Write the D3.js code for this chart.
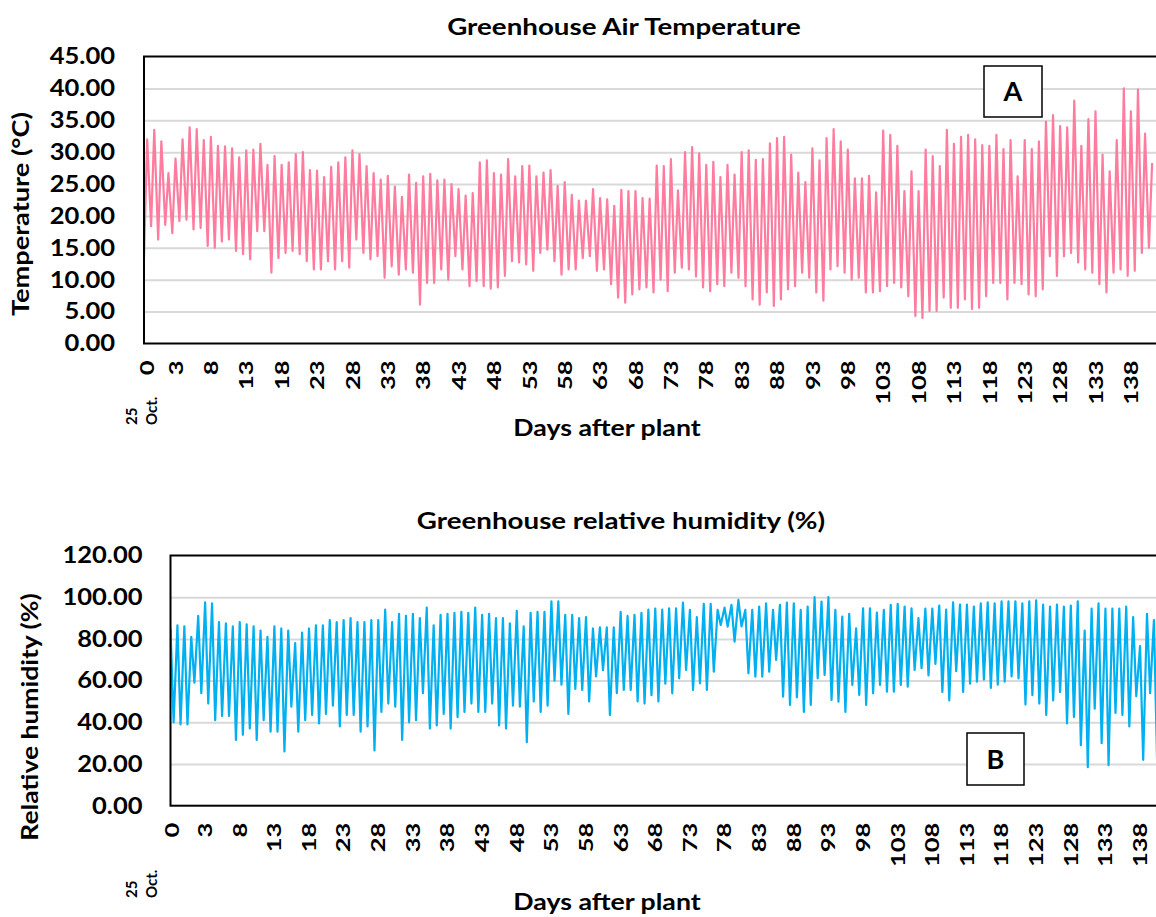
<!DOCTYPE html>
<html><head><meta charset="utf-8">
<script src="https://cdn.jsdelivr.net/npm/d3@7"></script>
<style>
body{margin:0;background:#fff;}
text{font-family:Lato,"Open Sans",sans-serif;font-weight:bold;fill:#000;}
</style>
</head><body>
<svg id="chart" width="1156" height="917"></svg>
<script>
// ---------- DATA ----------
const dayTicks = [0,3,8,13,18,23,28,33,38,43,48,53,58,63,68,73,78,83,88,93,98,103,108,113,118,123,128,133,138];
const tempTicks = [0,5,10,15,20,25,30,35,40,45];
const humTicks = [0,20,40,60,80,100,120];

// daily maximum air temperature (°C)
const tempMax = [
 32,33.5,31.7,26.7,29,32,33.9,33.6,31.9,32.4,31,30.9,30.6,29.2,30.3,30.4,31.3,28,29.4,28,28.4,29.7,30,27.2,27.1,26.1,27.7,28.4,29.2,30.3,29.7,27.8,26.7,25.7,26.3,24.6,
 23,26.5,25.2,26.2,26.6,25.6,25.7,25,24.2,23.2,23.6,28.4,28.7,26.7,26.5,28.9,26.2,27.8,27.9,26.2,26.8,27.2,24.7,25.3,23.3,22.4,22.4,24.2,22.8,22.6,21.6,24.1,23.9,23.9,22.8,22.7,
 27.9,27.8,28.9,24,30,30.8,29.8,28,28.5,26.1,28,26.5,30,30.3,28.8,28.9,31.4,32.2,32.4,29.6,26.8,25.3,30.6,28.7,32.2,33.6,31.7,30.4,25.9,25.9,26.3,23.7,33.4,32.7,31,
 23.9,27,23.9,30.4,29.4,27.8,33.5,31.3,32.4,32.7,32,31.1,31,32.7,30.5,31.9,26.2,31.9,30.5,31.7,34.8,35.8,34.1,33.9,38.1,31,35.2,36.4,29.6,27,31.9,40,36.4,39.8,32.9,28.3
];
// daily minimum air temperature (°C)
const tempMin = [
 13.4,18.4,16.3,18.6,17.3,19.2,19.4,17.9,18.1,15.3,15,16,16.3,14.5,14,13.2,17.6,17.6,11.1,13.4,14.2,14.5,14,12.9,11.6,11.6,12.9,11.6,12.9,11.9,16.3,14.2,13.2,13.7,10.3,12.1,
 10.8,11.6,11.1,6.1,9.5,9.5,11.6,10,13.7,11.6,9,9.8,9,8.6,8.8,10.6,12.9,12.7,12.4,11.4,14.2,14.7,12.9,10.8,11.6,11.6,13.4,13.7,11.4,11.6,9.3,7.2,6.4,7.7,8.5,8.8,
 8,10,8.2,11.1,11.9,11.6,10.5,8.8,8.2,9.3,9,11.1,10.3,9,6.9,6.1,8,5.9,6.9,8.5,9,11.1,10.3,8,6.7,11.6,12.1,11.1,10,10.3,8,8,8.2,9,9.5,
 8.8,7.4,4.3,4,5.1,5.1,7.2,5.6,5.6,6.9,5.4,5.6,7.4,9.5,9.5,6.9,9.5,9.3,7.7,7.4,8.5,13.7,10.6,13.7,14.2,12.7,11.6,11.1,9.3,8,11.1,11.6,10.6,11.4,14.2,15
];
// daily maximum relative humidity (%)
const humMax = [
 85,86.5,86,81,91,97.5,97,88,87.5,86,88,87,86,84,81,86,85,84,78,83,85,86.5,86.5,89,88,89,90,88,88,89,89,94,88,92,91,92,
 90,95,86.5,91.5,92,92.5,93,92.5,95,91.5,92,90,90,87.5,93.5,86,92.5,93,93,98,98,91.5,91.5,90,90.5,85,85.5,85.5,85.5,93,91,91.5,92.5,94,94.5,94,
 94.7,94.7,97.4,93.9,90.4,96.8,96.8,93.9,95,96.3,98.7,93.9,93.9,95.5,97.1,93.9,96.3,97.4,97.1,93.9,95.5,100,97.9,100,93.9,90.7,92,85.1,94.7,94.7,92.6,93.9,96.3,96.8,95.5,94.7,
 90,94.5,94.5,96,94,97.5,96.5,96.5,95.5,97,97.5,97,98,98,98,97,98,98.5,96.5,95.5,96.5,95.5,96,98,84,94.5,97,94.5,94.5,94.5,95.5,90.5,76.5,92,89
];
// daily minimum relative humidity (%)
const humMin = [
 40,39,39,59,54,49,41,43,43,31.5,34,37,31.5,41,35.5,35.5,26,47.5,35.5,41,43.5,39.5,44,48,38,43.5,43.5,35.5,38,26.5,45,49,47.5,31.5,40,41,
 54,37,38.5,44,37,42.5,45,49,45,45,49,38.5,37,48,47.5,30.5,50,45,48,60,58,44,56,55.5,50,62,65,43.5,54,55.5,55.5,50,49,53,50,58.5,
 53.9,61.1,65.1,55.5,58.7,55.5,64.3,86.7,85.9,78.7,86,63.5,61.9,61.9,64.3,69.9,52.3,48.3,52,45,48.3,61.1,62.7,50.7,49.9,45,57.9,53.1,48.3,53.9,57.9,54.7,54.7,57.9,57.1,65.1,
 66,62.5,68,54.5,50.5,64.5,54.5,58.5,59.5,60.5,56.5,58,59.5,62,61,48.5,53,49,43.5,50.5,54.5,39.5,42.5,29,18.5,46.5,30,19.5,44.5,43.5,38,52.5,22,54,22.5
];

// ---------- DRAW ----------
const svg = d3.select("#chart");

// widen glyphs along the text direction to match the reference's wide bold face
function stretch(sel, f){
  sel.each(function(){
    const L = this.getComputedTextLength();
    d3.select(this).attr("textLength", L * f).attr("lengthAdjust", "spacingAndGlyphs");
  });
}

function panel(cfg){
  const g = svg.append("g");
  const x = d3.scaleLinear().domain(cfg.xDomain).range([cfg.left, cfg.right]);
  const y = d3.scaleLinear().domain([0, cfg.yTicks[cfg.yTicks.length-1]]).range([cfg.bottom, cfg.top]);
  const clipId = "clip" + cfg.id;
  svg.append("clipPath").attr("id", clipId).append("rect")
    .attr("x", cfg.left).attr("y", cfg.top).attr("width", cfg.right - cfg.left).attr("height", cfg.bottom - cfg.top);

  // gridlines
  g.append("g").attr("transform", `translate(${cfg.left},0)`)
    .call(d3.axisLeft(y).tickValues(cfg.yTicks.slice(1, -1)).tickSize(-(cfg.right - cfg.left)).tickFormat(""))
    .call(s => s.select(".domain").remove())
    .call(s => s.selectAll("line").attr("stroke", "#d9d9d9").attr("stroke-width", 2));

  // y tick labels
  const ya = g.append("g").attr("transform", `translate(${cfg.left},0)`)
    .call(d3.axisLeft(y).tickValues(cfg.yTicks).tickSize(0).tickPadding(cfg.yPad).tickFormat(d3.format(".2f")));
  ya.select(".domain").remove();
  ya.selectAll("text").style("font-size", "23px").style("font-family", "Lato").style("font-weight", "bold").attr("fill", "#000")
    .call(stretch, 1.11);

  // series line
  const pts = [];
  cfg.first.forEach((v, k) => {
    pts.push([cfg.xDomain[0] + k, v]);
    pts.push([cfg.xDomain[0] + k + 0.45, cfg.second[k]]);
  });
  g.append("path").datum(pts)
    .attr("clip-path", `url(#${clipId})`)
    .attr("fill", "none").attr("stroke", cfg.color).attr("stroke-width", 2.2).attr("stroke-linejoin", "round")
    .attr("d", d3.line().x(d => x(d[0])).y(d => y(d[1])));

  // plot border
  g.append("rect").attr("x", cfg.left).attr("y", cfg.top)
    .attr("width", cfg.right - cfg.left + 4).attr("height", cfg.bottom - cfg.top)
    .attr("fill", "none").attr("stroke", "#000").attr("stroke-width", 2);

  // x tick labels (rotated)
  const xa = g.append("g").attr("transform", `translate(0,${cfg.bottom})`)
    .call(d3.axisBottom(x).tickValues(dayTicks).tickSize(0).tickFormat(d => d));
  xa.select(".domain").remove();
  xa.selectAll(".tick").attr("transform", d => `translate(${d === 0 ? cfg.left + cfg.zeroOff : x(d)},0)`);
  xa.selectAll("text")
    .attr("transform", "rotate(-90)")
    .attr("x", -cfg.xPad).attr("y", 0).attr("dy", "0.36em")
    .attr("text-anchor", "end")
    .style("font-size", "19px").style("font-family", "Lato").style("font-weight", "bold").attr("fill", "#000")
    .call(stretch, 1.34);

  // start date label
  const sd = g.append("text").attr("transform", `translate(${cfg.dateX},${cfg.dateY}) rotate(-90)`)
    .attr("text-anchor", "start").style("font-size", "15px");
  sd.append("tspan").attr("x", 0).attr("dy", 0).text("25");
  sd.append("tspan").attr("x", 0).attr("dy", 20).text("Oct.");

  // titles
  g.append("text").attr("x", cfg.titleX).attr("y", cfg.titleY).attr("text-anchor", "middle")
    .style("font-size", "22px").text(cfg.title).call(stretch, 1.26);
  g.append("text").attr("x", cfg.xTitleX).attr("y", cfg.xTitleY).attr("text-anchor", "middle")
    .style("font-size", "23px").text("Days after plant").call(stretch, 1.16);
  g.append("text").attr("transform", `translate(${cfg.yTitleX},${cfg.yTitleY}) rotate(-90)`)
    .attr("text-anchor", "middle").style("font-size", "23px").text(cfg.yTitle).call(stretch, cfg.yTitleF);

  // panel letter box
  g.append("rect").attr("x", cfg.box[0]).attr("y", cfg.box[1]).attr("width", cfg.box[2]).attr("height", cfg.box[3])
    .attr("fill", "#fff").attr("stroke", "#000").attr("stroke-width", 1.5);
  g.append("text").attr("x", cfg.box[0] + cfg.box[2] / 2).attr("y", cfg.box[1] + cfg.box[3] / 2)
    .attr("dy", "0.36em").attr("text-anchor", "middle").style("font-size", "27px").text(cfg.letter);
}

panel({
  id: "T", first: tempMin, second: tempMax, color: "#ff7c9f",
  xDomain: [-1.5, 141.5], left: 144, right: 1156, top: 56.5, bottom: 343.5,
  yTicks: tempTicks, yPad: 29, xPad: 17, zeroOff: 3,
  title: "Greenhouse Air Temperature", titleX: 624, titleY: 35,
  xTitleX: 607, xTitleY: 436, yTitle: "Temperature (°C)", yTitleX: 29, yTitleY: 214, yTitleF: 1.18,
  dateX: 137, dateY: 425, box: [984, 66, 58, 51], letter: "A"
});
panel({
  id: "H", first: humMax, second: humMin, color: "#00b0f0",
  xDomain: [-2, 140.3], left: 170.5, right: 1156, top: 555.5, bottom: 805.7,
  yTicks: humTicks, yPad: 28, xPad: 17, zeroOff: 1.5,
  title: "Greenhouse relative humidity (%)", titleX: 621, titleY: 529,
  xTitleX: 607, xTitleY: 910, yTitle: "Relative humidity (%)", yTitleX: 38, yTitleY: 717, yTitleF: 1.15,
  dateX: 137, dateY: 898, box: [967, 733, 57, 52], letter: "B"
});
</script>
</body></html>
